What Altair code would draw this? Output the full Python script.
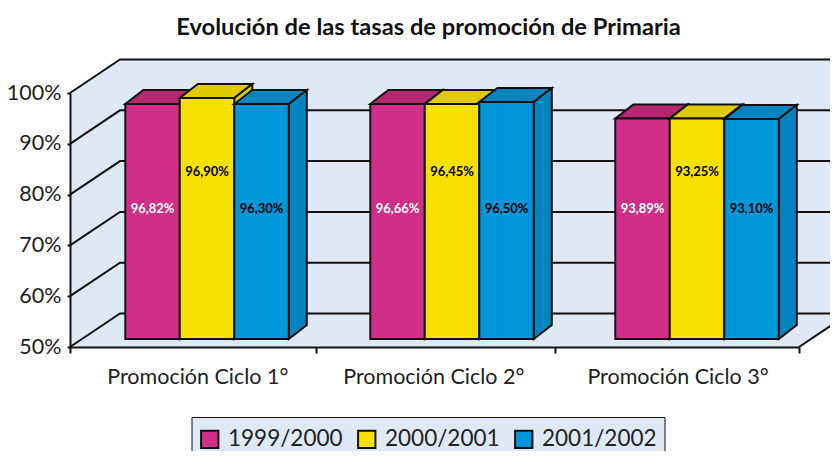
import altair as alt
import pandas as pd

# --- values ---
CICLOS = ["Promoción Ciclo 1°", "Promoción Ciclo 2°", "Promoción Ciclo 3°"]
SERIES = ["1999/2000", "2000/2001", "2001/2002"]
ETIQUETAS = {
    "1999/2000": ["96,82%", "96,66%", "93,89%"],
    "2000/2001": ["96,90%", "96,45%", "93,25%"],
    "2001/2002": ["96,30%", "96,50%", "93,10%"],
}
# heights as actually drawn in the picture
ALTURAS = {
    "1999/2000": [96.26, 96.26, 93.39],
    "2000/2001": [97.44, 96.26, 93.39],
    "2001/2002": [96.26, 96.65, 93.30],
}
TICKS_Y = [50, 60, 70, 80, 90, 100]

# --- style / oblique projection ---
FRONT = {"1999/2000": "#D12F87", "2000/2001": "#F8E000", "2001/2002": "#0096DA"}
TOP = {"1999/2000": "#B5276F", "2000/2001": "#DFCB00", "2001/2002": "#0085C1"}
TXT = {"1999/2000": "white", "2000/2001": "black", "2001/2002": "black"}
TXT_Y = {"1999/2000": 77.2, "2000/2001": 84.5, "2001/2002": 77.2}
WALL = "#DFE8F5"
INK = "#111111"
PX_X, PX_Y = 243.0, 5.08            # pixels per unit of each scale
WALL_DX, WALL_DY = 50 / PX_X, 33.5 / PX_Y
BAR_DX, BAR_DY = 18 / PX_X, 14 / PX_Y
BAR_W = 54.5 / PX_X
GROUP_X0, GROUP_STEP = 55.3 / PX_X, 245 / PX_X
LIFT = 8 / PX_Y                     # bars stand forward of the floor edge
FAR = 3.5
FONT = "Lato"

X = alt.Scale(domain=[0, 3], nice=False, zero=False)
Y = alt.Scale(domain=[50, 100], nice=False, zero=False)

label_pos = [0.524, 1.495, 2.5]
tick_pos = [0, 1.012, 1.996, 3]
label_expr = " : ".join(f"datum.value == {p} ? '{c}'" for p, c in zip(label_pos, CICLOS)) + " : ''"
tick_expr = " || ".join(f"datum.value == {p}" for p in label_pos) + " ? 0 : 1"
x_axis = alt.Axis(values=tick_pos + label_pos, labelExpr=label_expr, title=None, grid=False,
                  tickOpacity=alt.expr(tick_expr), tickSize=6, tickWidth=2,
                  tickColor=INK, domainColor=INK, domainWidth=2, labelFont=FONT, labelFontSize=21.5,
                  labelColor="#222222", labelPadding=13, labelOverlap=False, labelBound=False,
                  labelFlush=False, labelAngle=0, labelLimit=400, zindex=1)
y_axis = alt.Axis(values=TICKS_Y, labelExpr="datum.value + '%'", title=None, grid=False, tickSize=3,
                  tickWidth=2, tickColor=INK, domainColor=INK, domainWidth=2, labelFont=FONT,
                  labelFontSize=21.5, labelColor="#222222", labelPadding=6, labelOverlap=False,
                  labelBound=False, zindex=1)
xq = lambda f: alt.X(f, type="quantitative", scale=X, axis=x_axis, stack=None)
yq = lambda f: alt.Y(f, type="quantitative", scale=Y, axis=y_axis, stack=None)

layers = []

# walls and floor
back = pd.DataFrame({"x": [WALL_DX], "x2": [FAR], "y": [50 + WALL_DY], "y2": [100 + WALL_DY]})
layers.append(alt.Chart(back).mark_rect(fill=WALL).encode(x=xq("x"), x2="x2:Q", y=yq("y"), y2="y2:Q"))
left = pd.DataFrame({"x": [0, WALL_DX], "y": [50, 50 + WALL_DY], "y2": [100, 100 + WALL_DY]})
layers.append(alt.Chart(left).mark_area(fill=WALL).encode(x=xq("x"), y=yq("y"), y2="y2:Q"))
floor = pd.DataFrame({"y": [50, 50 + WALL_DY], "x": [0, WALL_DX], "x2": [3, 3 + WALL_DX]})
layers.append(alt.Chart(floor).mark_area(fill=WALL, orient="horizontal").encode(y=yq("y"), x=xq("x"), x2="x2:Q"))

# gridlines running along the left wall and the back wall
rows = []
for t in TICKS_Y:
    rows += [dict(k=t, o=0, x=0, y=t), dict(k=t, o=1, x=WALL_DX, y=t + WALL_DY),
             dict(k=t, o=2, x=FAR, y=t + WALL_DY)]
rows += [dict(k=0, o=0, x=3, y=50), dict(k=0, o=1, x=3 + WALL_DX, y=50 + WALL_DY)]
layers.append(alt.Chart(pd.DataFrame(rows)).mark_line(color=INK, strokeWidth=2, strokeJoin="miter").encode(
    x=xq("x"), y=yq("y"), detail="k:N", order="o:Q"))

# bars, painted series by series
stroke = dict(stroke=INK, strokeWidth=2, strokeJoin="miter")
texts = []
for si, s in enumerate(SERIES):
    fr, si_rows, to_rows = [], [], []
    for g in range(3):
        x0 = GROUP_X0 + g * GROUP_STEP + si * BAR_W
        x1 = x0 + BAR_W
        base = 50 + LIFT
        top = ALTURAS[s][g] + LIFT
        fr.append(dict(serie=s, x=x0, x2=x1, y=base, y2=top))
        si_rows += [dict(g=g, x=x1, y=base, y2=top),
                    dict(g=g, x=x1 + BAR_DX, y=base + BAR_DY, y2=top + BAR_DY)]
        to_rows += [dict(g=g, y=top, x=x0, x2=x1),
                    dict(g=g, y=top + BAR_DY, x=x0 + BAR_DX, x2=x1 + BAR_DX)]
        texts.append(dict(x=(x0 + x1) / 2, y=TXT_Y[s], t=ETIQUETAS[s][g], c=TXT[s]))
    layers.append(alt.Chart(pd.DataFrame(to_rows)).mark_area(fill=TOP[s], orient="horizontal", **stroke).encode(
        y=yq("y"), x=xq("x"), x2="x2:Q", detail="g:N"))
    layers.append(alt.Chart(pd.DataFrame(si_rows)).mark_area(fill=TOP[s], **stroke).encode(
        x=xq("x"), y=yq("y"), y2="y2:Q", detail="g:N"))
    layers.append(alt.Chart(pd.DataFrame(fr)).mark_rect(**stroke).encode(
        x=xq("x"), x2="x2:Q", y=yq("y"), y2="y2:Q",
        color=alt.Color("serie:N", scale=alt.Scale(domain=SERIES, range=[FRONT[k] for k in SERIES]),
                        legend=alt.Legend(orient="none", legendX=121.5, legendY=324, direction="horizontal",
                                          title=" ", titleFontSize=1, titlePadding=3,
                                          fillColor=WALL, strokeColor=INK, padding=7,
                                          symbolType="square", symbolSize=300, symbolStrokeColor=INK,
                                          symbolStrokeWidth=2, labelFont=FONT, labelFontSize=22.5,
                                          labelColor="#222222", columnPadding=10, labelOffset=7))))

layers.append(alt.Chart(pd.DataFrame(texts)).mark_text(font=FONT, fontWeight="bold", fontSize=13).encode(
    x=xq("x"), y=yq("y"), text="t:N", color=alt.Color("c:N", scale=None)))

chart = alt.layer(*layers).properties(
    width=729, height=254,
    padding={"left": 62, "top": 85, "right": 31, "bottom": 104},
    autosize=alt.AutoSizeParams(type="none"),
    title=alt.TitleParams("Evolución de las tasas de promoción de Primaria", font=FONT, fontSize=23.7,
                          fontWeight="bold", color="#111111", anchor="middle", dx=-6, offset=16),
).configure_view(stroke=None).configure(background="white")

chart.save("out.html", embed_options={"renderer": "svg", "actions": False})
